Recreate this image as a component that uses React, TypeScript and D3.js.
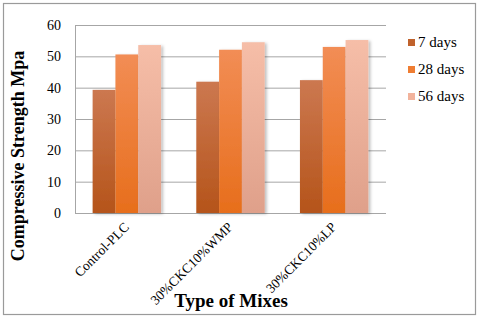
// Compressive strength grouped bar chart
import React, { useEffect, useRef } from 'react';
import * as d3 from 'd3';

const mixes = ['Control-PLC', '30%CKC10%WMP', '30%CKC10%LP'];
const seriesNames = ['7 days', '28 days', '56 days'];
const days7 = [39.3, 41.9, 42.4];
const days28 = [50.6, 52.1, 53.0];
const days56 = [53.6, 54.5, 55.2];
const yTicks = [0, 10, 20, 30, 40, 50, 60];

const seriesColors = [
  { top: '#cc7850', bottom: '#b5541a', legend: '#c0622c' },
  { top: '#f28d55', bottom: '#e76e1c', legend: '#ef7d32' },
  { top: '#f6bea8', bottom: '#dfa08a', legend: '#f2b39c' },
];

const App: React.FC = () => {
  const ref = useRef<SVGSVGElement>(null);

  useEffect(() => {
    if (!ref.current) return;
    const svg = d3.select(ref.current).select<SVGGElement>('g.chart');
    svg.selectAll('*').remove();

    const width = 480;
    const height = 318;
    const margin = { top: 25, right: 94, bottom: 105, left: 75 };
    const plotWidth = width - margin.left - margin.right;
    const plotHeight = height - margin.top - margin.bottom;

    const defs = svg.append('defs');
    seriesColors.forEach((c, i) => {
      const grad = defs.append('linearGradient')
        .attr('id', `grad${i}`)
        .attr('x1', 0).attr('y1', 0).attr('x2', 0).attr('y2', 1);
      grad.append('stop').attr('offset', '0%').attr('stop-color', c.top);
      grad.append('stop').attr('offset', '100%').attr('stop-color', c.bottom);
    });
    const shadow = defs.append('filter').attr('id', 'shadow')
      .attr('x', '-20%').attr('y', '-10%').attr('width', '160%').attr('height', '120%');
    shadow.append('feDropShadow')
      .attr('dx', 2).attr('dy', 1).attr('stdDeviation', 1.5)
      .attr('flood-color', '#000').attr('flood-opacity', 0.25);

    const g = svg.append('g')
      .attr('transform', `translate(${margin.left},${margin.top})`);

    const x0 = d3.scaleBand().domain(mixes).range([0, plotWidth]).paddingInner(0.34).paddingOuter(0.17);
    const x1 = d3.scaleBand().domain(seriesNames).range([0, x0.bandwidth()]);
    const y = d3.scaleLinear().domain([0, 60]).range([plotHeight, 0]);

    // grid lines
    g.selectAll('.grid')
      .data(yTicks)
      .enter()
      .append('line')
      .attr('x1', 0).attr('x2', plotWidth)
      .attr('y1', d => y(d) + 0.5).attr('y2', d => y(d) + 0.5)
      .attr('stroke', '#a6a6a6')
      .attr('stroke-width', 1);

    g.append('line')
      .attr('x1', 0.5).attr('x2', 0.5)
      .attr('y1', 0).attr('y2', plotHeight)
      .attr('stroke', '#a6a6a6');

    // y tick labels
    g.selectAll('.ytick')
      .data(yTicks)
      .enter()
      .append('text')
      .attr('x', -14)
      .attr('y', d => y(d) + 5)
      .attr('text-anchor', 'end')
      .attr('font-size', 14)
      .text(d => d);

    const values = [days7, days28, days56];
    const data = mixes.map((m, i) => ({
      mix: m,
      bars: seriesNames.map((s, j) => ({ s, j, v: values[j][i] })),
    }));

    const groups = g.selectAll('.group')
      .data(data)
      .enter()
      .append('g')
      .attr('transform', d => `translate(${x0(d.mix)},0)`);

    groups.selectAll('rect')
      .data(d => d.bars)
      .enter()
      .append('rect')
      .attr('x', d => x1(d.s)!)
      .attr('y', d => y(d.v))
      .attr('width', x1.bandwidth())
      .attr('height', d => plotHeight - y(d.v))
      .attr('fill', d => `url(#grad${d.j})`)
      .attr('filter', 'url(#shadow)');

    // category labels, rotated
    g.selectAll('.xlabel')
      .data(mixes)
      .enter()
      .append('text')
      .attr('transform', d => `translate(${x0(d)! + x0.bandwidth() / 2 + 3},${plotHeight + 15}) rotate(-45)`)
      .attr('text-anchor', 'end')
      .attr('font-size', 13.5)
      .text(d => d);

    // axis titles
    svg.append('text')
      .attr('x', 231)
      .attr('y', 307)
      .attr('text-anchor', 'middle')
      .attr('font-size', 19)
      .attr('font-weight', 'bold')
      .text('Type of Mixes');

    svg.append('text')
      .attr('transform', 'translate(24,156) rotate(-90)')
      .attr('text-anchor', 'middle')
      .attr('font-size', 18)
      .attr('font-weight', 'bold')
      .text('Compressive Strength Mpa');

    // legend
    const legend = svg.append('g').attr('transform', 'translate(408,42)');
    seriesNames.forEach((s, i) => {
      const row = legend.append('g').attr('transform', `translate(0,${i * 27})`);
      row.append('rect')
        .attr('x', 0).attr('y', -3)
        .attr('width', 7).attr('height', 7)
        .attr('fill', seriesColors[i].legend);
      row.append('text')
        .attr('x', 10).attr('y', 5)
        .attr('font-size', 15)
        .text(s);
    });
  }, []);

  return (
    <div style={{ position: 'absolute', left: 0, top: 0 }}>
      <svg ref={ref} width={480} height={318} style={{ display: 'block', background: '#fff' }}
        fontFamily="Liberation Serif, Times New Roman, serif">
        <rect x={3.5} y={3.5} width={472} height={311} fill="none" stroke="#9a9a9a" strokeWidth={1.2} />
        <g className="chart" />
      </svg>
    </div>
  );
};

export default App;
